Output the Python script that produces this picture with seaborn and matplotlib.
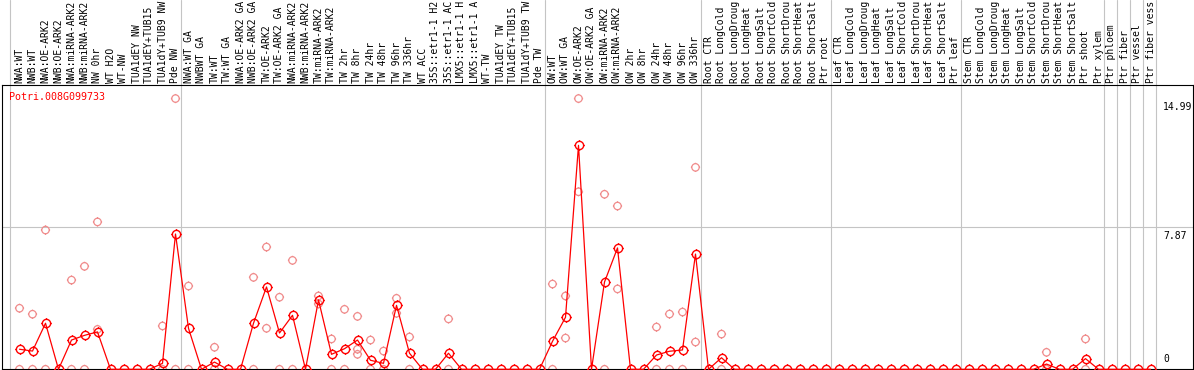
import numpy as np
import pandas as pd
import matplotlib
matplotlib.use("Agg")
import matplotlib.pyplot as plt
from matplotlib.path import Path
import seaborn as sns

# ---------------- data ----------------
labels = [
    "NWA:WT", "NWB:WT", "NWA:OE-ARK2", "NWB:OE-ARK2", "NWA:miRNA-ARK2", "NWB:miRNA-ARK2",
    "NW 0hr", "WT H2O", "WT-NW", "TUA1dEY NW", "TUA1dEY+TUB15 NW", "TUA1dY+TUB9 NW", "Pde NW",
    "NWA:WT GA", "NWBWT GA", "TW:WT", "TW:WT GA", "NWA:OE-ARK2 GA", "NWB:OE-ARK2 GA",
    "TW:OE-ARK2", "TW:OE-ARK2 GA", "NWA:miRNA-ARK2 GA", "NWB:miRNA-ARK2 GA", "TW:miRNA-ARK2",
    "TW:miRNA-ARK2 GA", "TW 2hr", "TW 8hr", "TW 24hr", "TW 48hr", "TW 96hr", "TW 336hr",
    "WT ACC", "35S::etr1-1 H2O", "35S::etr1-1 ACC", "LMX5::etr1-1 H2O", "LMX5::etr1-1 ACC",
    "WT-TW", "TUA1dEY TW", "TUA1dEY+TUB15 TW", "TUA1dY+TUB9 TW", "Pde TW",
    "OW:WT", "OW:WT GA", "OW:OE-ARK2", "OW:OE-ARK2 GA", "OW:miRNA-ARK2", "OW:miRNA-ARK2 GA",
    "OW 2hr", "OW 8hr", "OW 24hr", "OW 48hr", "OW 96hr", "OW 336hr",
    "Root CTR", "Root LongCold", "Root LongDrought", "Root LongHeat", "Root LongSalt",
    "Root ShortCold", "Root ShortDrought", "Root ShortHeat", "Root ShortSalt", "Ptr root",
    "Leaf CTR", "Leaf LongCold", "Leaf LongDrought", "Leaf LongHeat", "Leaf LongSalt",
    "Leaf ShortCold", "Leaf ShortDrought", "Leaf ShortHeat", "Leaf ShortSalt", "Ptr leaf",
    "Stem CTR", "Stem LongCold", "Stem LongDrought", "Stem LongHeat", "Stem LongSalt",
    "Stem ShortCold", "Stem ShortDrought", "Stem ShortHeat", "Stem ShortSalt", "Ptr shoot",
    "Ptr xylem", "Ptr phloem", "Ptr fiber", "Ptr vessel", "Ptr fiber vessel",
]

means = [
    1.11, 1.01, 2.55, 0, 1.62, 1.88, 2.07, 0, 0, 0, 0, 0.33, 7.49,
    2.27, 0, 0.40, 0, 0, 2.55, 4.56, 2.01, 2.99, 0, 3.84, 0.83,
    1.14, 1.62, 0.50, 0.33, 3.54, 0.89, 0, 0, 0.89, 0, 0, 0, 0, 0, 0, 0,
    1.55, 2.88, 12.40, 0, 4.83, 6.72, 0, 0, 0.79, 1.00, 1.07, 6.38,
    0, 0.64, 0, 0, 0, 0, 0, 0, 0, 0,
    0, 0, 0, 0, 0, 0, 0, 0, 0, 0,
    0, 0, 0, 0, 0, 0, 0.29, 0, 0, 0.59,
    0, 0, 0, 0, 0,
]

# replicate values (index -> value)
rep_upper = {0: 3.38, 1: 3.05, 2: 7.71, 4: 4.94, 5: 5.70, 6: 8.16, 11: 2.40, 12: 14.99,
             13: 4.61, 15: 1.22, 18: 5.09, 19: 6.77, 20: 3.99, 21: 6.03, 23: 4.06, 24: 1.68,
             25: 3.32, 26: 2.93, 27: 1.62, 28: 1.01, 29: 3.93, 30: 1.79, 33: 2.79,
             41: 4.72, 42: 4.06, 43: 14.99, 45: 9.69, 46: 9.04, 49: 2.34, 50: 3.06,
             51: 3.17, 52: 11.18, 54: 1.95, 79: 0.94, 82: 1.68}
rep_lower = {0: 0, 1: 0, 2: 0, 4: 0, 5: 0, 6: 2.21, 11: 0, 12: 0, 13: 0, 15: 0, 18: 0,
             19: 2.27, 20: 0, 21: 0, 23: 3.62, 24: 0, 25: 0, 26: 1.11, 27: 0, 28: 0,
             29: 3.10, 30: 0, 33: 0, 41: 0, 42: 1.73, 43: 9.83, 45: 0, 46: 4.45,
             49: 0, 50: 0, 51: 0, 52: 1.51, 54: 0, 79: 0, 82: 0}
rep_third = {26: 0.83}

gene = "Potri.008G099733"
ytick_vals = [14.99, 7.87, 0]
group_ends = [12, 40, 52, 62, 72, 83, 84, 85, 86, 87]
LABEL_CHARS = 14  # the source chart cuts sample names to 14 characters

RED = "#ff0000"
PINK = "#f08c8c"
GRID = "#c4c4c4"

# ---------------- frames ----------------
df_mean = pd.DataFrame({"pos": np.arange(len(labels)), "value": means})
rows = []
for d in (rep_upper, rep_lower, rep_third):
    for k, v in d.items():
        rows.append((k, v))
df_rep = pd.DataFrame(rows, columns=["pos", "value"])

# ---------------- style ----------------
sns.set_style("white")
plt.rcParams["font.family"] = ["DejaVu Sans Mono"]

# polygonal circle marker with four tiny stubs
M, L, C = Path.MOVETO, Path.LINETO, Path.CLOSEPOLY
th = np.linspace(0, 2 * np.pi, 41)[:-1]
circ = np.column_stack([np.cos(th), np.sin(th)])
verts = list(map(tuple, circ)) + [(1, 0)]
codes = [M] + [L] * (len(circ) - 1) + [C]
s_out = 1.25
for a, b in [((0, 1), (0, s_out)), ((0, -1), (0, -s_out)), ((1, 0), (s_out, 0)), ((-1, 0), (-s_out, 0))]:
    verts += [a, b]
    codes += [M, L]
mk = Path(verts, codes)

W, H = 1194, 370
fig = plt.figure(figsize=(W / 100, H / 100), dpi=100)
ax_left, ax_right, ax_top, ax_bot = 1.5, 1192.5, 85.0, 369.3
ax = fig.add_axes([ax_left / W, (H - ax_bot) / H, (ax_right - ax_left) / W, (ax_bot - ax_top) / H])

step = 13.0
x0px = 19.5
ax.set_xlim((ax_left - x0px) / step, (ax_right - x0px) / step)
ax.set_ylim(0, 15.74)

# grid lines
ax.axhline(7.87, color=GRID, lw=0.8, zorder=0)
ext = 1 + (ax_top) / (ax_bot - ax_top)
ax.axvline((10 - x0px) / step, ymin=0, ymax=ext, clip_on=False, color=GRID, lw=0.8, zorder=0)
for g in group_ends:
    ax.axvline(g + 0.4, ymin=0, ymax=ext, clip_on=False, color=GRID, lw=0.8, zorder=0)

# replicates
sns.scatterplot(data=df_rep, x="pos", y="value", marker=mk, s=44, color=PINK,
                facecolor="none", edgecolor=PINK, linewidth=0.9, ax=ax, zorder=2,
                clip_on=False, legend=False)
# means
sns.lineplot(data=df_mean, x="pos", y="value", color=RED, lw=0.9, marker=mk,
             markersize=7.4, markerfacecolor="none", markeredgecolor=RED,
             markeredgewidth=1.0, ax=ax, zorder=3, clip_on=False, legend=False)

# ticks / labels
ax.set_xticks(np.arange(len(labels)))
ax.set_xticklabels([s[:LABEL_CHARS] for s in labels], rotation=90, fontsize=7)
ax.xaxis.tick_top()
ax.tick_params(axis="x", length=0, pad=1.2, colors="black")
ax.set_yticks([])
ax.set_xlabel("")
ax.set_ylabel("")

for sp in ax.spines.values():
    sp.set_visible(True)
    sp.set_color("black")
    sp.set_linewidth(0.8)

ylab_x = (1163 - x0px) / step
for v in ytick_vals:
    if v == 0:
        ax.annotate(f"{v:g}", xy=(ylab_x, v), xytext=(0, 4), textcoords="offset points",
                    ha="left", va="bottom", fontsize=7, color="black")
    else:
        ax.annotate(f"{v:.2f}", xy=(ylab_x, v), xytext=(0, -2.5), textcoords="offset points",
                    ha="left", va="top", fontsize=7, color="black")

ax.text((9.3 - ax_left) / (ax_right - ax_left), (ax_bot - 96.7) / (ax_bot - ax_top), gene,
        transform=ax.transAxes, color=RED, fontsize=7.2, ha="left", va="center")

fig.savefig("out.png", dpi=100)
